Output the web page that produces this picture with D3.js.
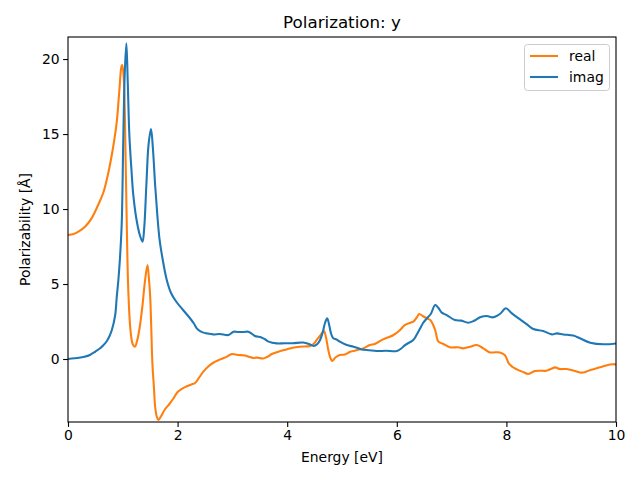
<!DOCTYPE html>
<html>
<head>
<meta charset="utf-8">
<script src="https://cdn.jsdelivr.net/npm/d3@7"></script>
<style>
  html, body { margin: 0; padding: 0; background: #fff; }
  svg { display: block; }
  text { font-family: "DejaVu Sans", sans-serif; fill: #000; }
</style>
</head>
<body>
<svg id="chart" width="640" height="480"></svg>
<script>
const realEnergy = [0.00,0.10,0.19,0.31,0.43,0.55,0.65,0.74,0.83,0.89,0.94,0.975,0.99,1.02,1.05,1.07,1.10,1.14,1.18,1.22,1.26,1.31,1.36,1.40,1.45,1.48,1.50,1.52,1.54,1.57,1.59,1.62,1.65,1.70,1.77,1.85,1.92,2.00,2.07,2.15,2.25,2.32,2.40,2.47,2.56,2.65,2.77,2.90,2.99,3.10,3.23,3.30,3.38,3.45,3.56,3.64,3.72,3.85,3.99,4.10,4.23,4.42,4.48,4.54,4.60,4.67,4.71,4.75,4.79,4.82,4.88,4.96,5.05,5.15,5.25,5.39,5.51,5.60,5.75,5.85,5.94,6.05,6.15,6.25,6.30,6.36,6.41,6.48,6.55,6.61,6.66,6.70,6.76,6.85,6.97,7.12,7.21,7.34,7.46,7.58,7.70,7.80,7.88,7.97,8.05,8.12,8.19,8.30,8.40,8.52,8.62,8.73,8.82,8.89,8.98,9.10,9.25,9.37,9.46,9.55,9.65,9.77,9.89,10.0];
const realValues = [8.27,8.33,8.49,8.82,9.38,10.27,11.15,12.49,14.27,15.82,18.05,19.5,19.6,18.5,13.6,9.5,4.6,1.93,1.0,0.82,1.2,2.15,3.6,5.04,6.27,5.2,4.15,2.0,-0.29,-2.0,-3.18,-3.85,-4.07,-3.8,-3.35,-3.0,-2.65,-2.2,-2.0,-1.85,-1.7,-1.6,-1.2,-0.84,-0.5,-0.25,-0.04,0.16,0.33,0.27,0.24,0.15,0.07,0.09,0.03,0.15,0.33,0.5,0.64,0.75,0.82,0.87,1.0,1.27,1.55,1.87,1.4,0.6,0.05,-0.13,0.1,0.27,0.3,0.49,0.57,0.71,0.93,1.0,1.31,1.45,1.6,1.9,2.27,2.42,2.49,2.75,3.0,2.85,2.71,2.6,2.3,1.93,1.16,1.0,0.78,0.78,0.71,0.82,0.93,0.71,0.44,0.45,0.44,0.27,-0.33,-0.55,-0.69,-0.86,-1.0,-0.8,-0.78,-0.78,-0.65,-0.56,-0.67,-0.67,-0.8,-0.91,-0.84,-0.72,-0.62,-0.48,-0.36,-0.36];

const imagEnergy = [0.00,0.20,0.30,0.40,0.50,0.58,0.64,0.71,0.76,0.80,0.86,0.89,0.92,0.95,0.98,1.01,1.035,1.065,1.09,1.12,1.16,1.19,1.25,1.31,1.36,1.39,1.43,1.47,1.515,1.55,1.59,1.63,1.67,1.72,1.80,1.88,1.98,2.10,2.23,2.30,2.35,2.41,2.47,2.53,2.65,2.77,2.93,3.02,3.10,3.20,3.29,3.35,3.41,3.53,3.60,3.66,3.81,3.95,4.10,4.29,4.40,4.48,4.55,4.60,4.65,4.69,4.73,4.77,4.80,4.84,4.90,4.96,5.09,5.21,5.30,5.36,5.50,5.63,5.80,6.00,6.08,6.15,6.30,6.36,6.42,6.48,6.55,6.62,6.70,6.76,6.82,6.91,7.06,7.18,7.30,7.40,7.52,7.64,7.76,7.88,7.99,8.10,8.25,8.37,8.49,8.67,8.83,8.92,9.04,9.22,9.34,9.53,9.77,10.0];
const imagValues = [0.0,0.08,0.15,0.27,0.5,0.7,0.9,1.2,1.55,1.93,2.9,4.15,5.3,6.82,9.0,14.9,19.0,21.05,18.5,14.9,12.5,11.0,9.3,8.27,7.82,8.7,11.6,14.3,15.33,14.0,11.6,9.6,8.0,6.8,5.3,4.4,3.8,3.27,2.7,2.35,2.04,1.86,1.76,1.71,1.64,1.67,1.6,1.82,1.80,1.80,1.82,1.7,1.53,1.44,1.3,1.16,1.04,1.05,1.05,1.1,1.0,0.87,1.0,1.27,1.8,2.4,2.71,2.2,1.7,1.38,1.3,1.16,0.93,0.82,0.72,0.64,0.58,0.53,0.55,0.53,0.7,0.93,1.27,1.6,2.0,2.4,2.71,3.0,3.6,3.4,3.09,2.93,2.6,2.56,2.42,2.53,2.78,2.87,2.78,3.0,3.38,3.04,2.64,2.33,2.0,1.87,1.64,1.71,1.64,1.56,1.38,1.09,0.98,1.04];

const xTicks = [0, 2, 4, 6, 8, 10];
const yTicks = [0, 5, 10, 15, 20];
const seriesNames = ["real", "imag"];
const seriesColors = ["#ff7f0e", "#1f77b4"];

const svg = d3.select("#chart");
const mLeft = 68, mRight = 616, mTop = 37, mBottom = 422;

const x = d3.scaleLinear().domain([0, 10]).range([mLeft, mRight]);
const y = d3.scaleLinear().domain([-4.2, 21.47]).range([mBottom, mTop]);

svg.append("rect").attr("x", 0).attr("y", 0).attr("width", 640).attr("height", 480).attr("fill", "#fff");

svg.append("clipPath").attr("id", "clip")
  .append("rect").attr("x", mLeft).attr("y", mTop).attr("width", mRight - mLeft).attr("height", mBottom - mTop);

const line = d3.line().x(d => x(d[0])).y(d => y(d[1])).curve(d3.curveCatmullRom.alpha(0.5));
const realData = realEnergy.map((e, i) => [e, realValues[i]]);
const imagData = imagEnergy.map((e, i) => [e, imagValues[i]]);

const plot = svg.append("g").attr("clip-path", "url(#clip)");
plot.append("path").datum(realData).attr("d", line).attr("fill", "none")
  .attr("stroke", seriesColors[0]).attr("stroke-width", 2.08).attr("stroke-linejoin", "round").attr("stroke-linecap", "square");
plot.append("path").datum(imagData).attr("d", line).attr("fill", "none")
  .attr("stroke", seriesColors[1]).attr("stroke-width", 2.08).attr("stroke-linejoin", "round").attr("stroke-linecap", "square");

// axes
const xAxis = d3.axisBottom(x).tickValues(xTicks).tickFormat(d3.format("d")).tickSizeOuter(0).tickSize(4.9).tickPadding(3.5);
const yAxis = d3.axisLeft(y).tickValues(yTicks).tickFormat(d3.format("d")).tickSizeOuter(0).tickSize(4.9).tickPadding(3.5);

const gx = svg.append("g").attr("transform", `translate(0,${mBottom})`).call(xAxis);
const gy = svg.append("g").attr("transform", `translate(${mLeft},0)`).call(yAxis);
[gx, gy].forEach(g => {
  g.select(".domain").remove();
  g.selectAll(".tick line").attr("stroke", "#000").attr("stroke-width", 1.1);
  g.selectAll(".tick text").attr("font-family", "DejaVu Sans").attr("font-size", 13.9).attr("fill", "#000");
});

// spines
svg.append("rect").attr("x", mLeft).attr("y", mTop).attr("width", mRight - mLeft).attr("height", mBottom - mTop)
  .attr("fill", "none").attr("stroke", "#000").attr("stroke-width", 1.1);

// labels
svg.append("text").attr("x", (mLeft + mRight) / 2).attr("y", 28).attr("text-anchor", "middle")
  .attr("font-size", 16.7).text("Polarization: y");
svg.append("text").attr("x", (mLeft + mRight) / 2).attr("y", 462).attr("text-anchor", "middle")
  .attr("font-size", 13.9).text("Energy [eV]");
svg.append("text").attr("transform", `translate(30,${(mTop + mBottom) / 2}) rotate(-90)`).attr("text-anchor", "middle")
  .attr("font-size", 13.9).text("Polarizability [Å]");

// legend
const lg = svg.append("g");
lg.append("rect").attr("x", 524.5).attr("y", 44.5).attr("width", 85).attr("height", 46).attr("rx", 3)
  .attr("fill", "#fff").attr("fill-opacity", 0.8).attr("stroke", "#cccccc").attr("stroke-width", 1);
seriesNames.forEach((name, i) => {
  const yy = 56 + i * 21;
  lg.append("line").attr("x1", 530).attr("x2", 558).attr("y1", yy).attr("y2", yy)
    .attr("stroke", seriesColors[i]).attr("stroke-width", 2.08);
  lg.append("text").attr("x", 569).attr("y", yy + 5).attr("font-size", 13.9).text(name);
});
</script>
</body>
</html>
